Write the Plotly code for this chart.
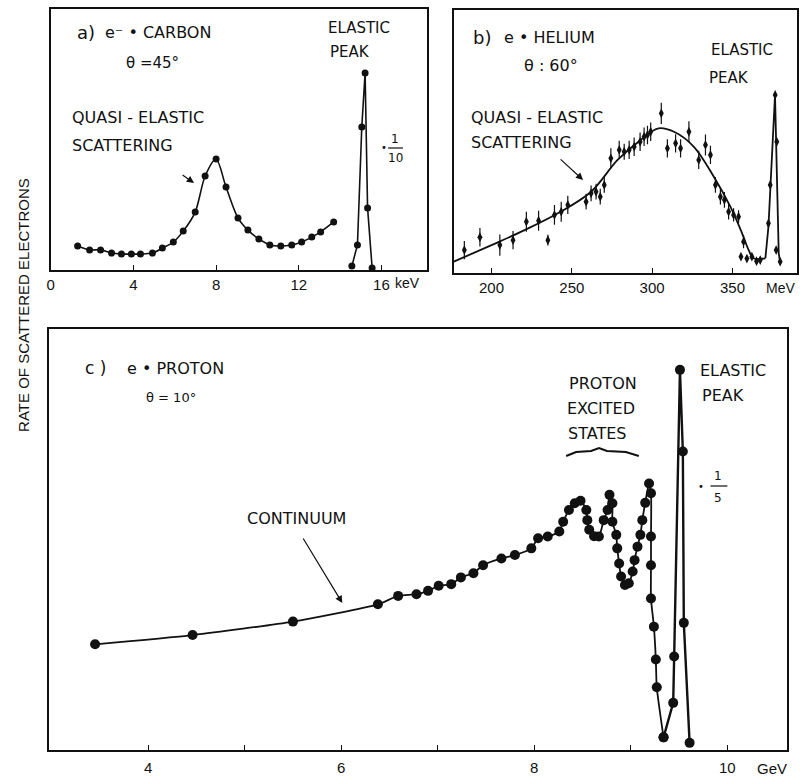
import plotly.graph_objects as go

W, H = 803, 780

# ---------------- data ----------------
# panel a: e + carbon (keV)
a_quasi_x = [1.30, 1.88, 2.41, 2.94, 3.42, 3.90, 4.34, 4.92, 5.40, 5.93, 6.41, 6.99, 7.47,
             8.00, 8.48, 9.06, 9.54, 10.07, 10.60, 11.13, 11.66, 12.14, 12.63, 13.06, 13.69]
a_quasi_y = [9.2, 7.7, 7.7, 6.5, 6.1, 6.1, 6.1, 6.5, 8.4, 10.7, 14.9, 22.2, 36.0,
             42.5, 31.8, 19.9, 15.3, 11.9, 9.6, 9.2, 9.6, 10.7, 12.6, 14.6, 18.4]
a_el_x = [14.57, 14.84, 15.05, 15.21, 15.33, 15.55]
a_el_y = [1.5, 9.6, 54.8, 75.5, 23.8, 0.8]
a_ticks = [0, 4, 8, 12, 16]
a_ticktext = ["0", "4", "8", "12", "16"]

# panel b: e + helium (MeV)
b_x = [183.1, 192.8, 205.2, 213.4, 221.7, 229.3, 235.1, 239.2, 243.4, 247.5, 258.9, 262.0,
       265.1, 267.7, 270.2, 274.3, 279.5, 282.6, 285.7, 288.8, 292.5, 295.0, 297.1, 299.1,
       305.7, 309.5, 314.6, 317.7, 322.9, 329.0, 333.2, 336.3, 339.4, 342.5, 345.0, 347.6,
       350.7, 353.8, 356.9, 355.3, 359.0, 362.1, 365.0, 367.3, 372.4, 373.5, 376.6, 377.6,
       377.2, 379.7]
b_y = [8.7, 13.6, 10.6, 12.5, 19.5, 19.9, 12.5, 22.1, 23.3, 25.9, 27.1, 30.3,
       30.9, 29.0, 33.5, 43.6, 46.8, 46.1, 46.8, 48.0, 49.9, 51.8, 52.5, 53.7,
       60.7, 47.4, 49.3, 47.4, 53.7, 43.0, 48.7, 44.9, 33.5, 29.0, 27.8, 23.3,
       22.1, 21.4, 11.9, 6.2, 5.5, 6.2, 4.5, 4.9, 18.9, 33.5, 67.7, 49.9,
       8.7, 4.3]
b_err = [3.5, 3.5, 4.0, 3.5, 3.8, 3.8, 2.0, 3.8, 3.8, 3.5, 3.0, 3.0,
         3.0, 3.0, 3.0, 3.8, 3.5, 3.0, 3.5, 3.5, 3.5, 3.5, 3.5, 3.5,
         4.0, 3.5, 3.5, 3.5, 4.0, 3.5, 4.0, 3.5, 3.0, 3.0, 3.0, 3.0,
         2.5, 2.5, 2.5, 1.0, 1.0, 1.0, 1.0, 1.0, 0, 0, 0, 0,
         0, 0]
b_fit_x = [176.5, 200, 220.6, 241.3, 262, 278.5, 292.9, 304, 313.6, 326, 338.4, 348.7,
           356, 360.1, 363.2, 370.5]
b_fit_y = [4.3, 10.6, 16.3, 22.7, 30.9, 43, 50.6, 55, 53.7, 48, 36.6, 25.2,
           15.1, 8.7, 5.6, 5.6]
b_el_x = [370.5, 372.4, 376.5, 378.8, 379.7]
b_el_y = [5.6, 17.6, 67.7, 7.5, 4.0]
b_ticks = [200, 250, 300, 350]

# panel c: e + proton (GeV)
c_x = [3.45, 4.46, 5.50, 6.38, 6.59, 6.78, 6.90, 7.01, 7.14, 7.24, 7.37, 7.47, 7.66,
       7.80, 7.97, 8.04, 8.14, 8.26, 8.30, 8.36, 8.42, 8.48, 8.54, 8.55, 8.57, 8.62,
       8.67, 8.72, 8.76, 8.78, 8.81, 8.81, 8.85, 8.86, 8.88, 8.90, 8.94, 8.98, 9.02,
       9.04, 9.07, 9.10, 9.12, 9.15, 9.19, 9.21, 9.21, 9.21, 9.21, 9.24, 9.26, 9.27,
       9.34]
c_y = [25.1, 27.3, 30.5, 34.6, 36.6, 37.0, 37.8, 39.0, 39.4, 41.0, 42.0, 43.9, 45.5,
       46.3, 47.9, 50.3, 50.7, 51.9, 54.2, 57.0, 58.6, 59.2, 57.0, 54.6, 52.3, 50.8,
       50.7, 54.6, 57.0, 60.6, 58.6, 54.2, 51.1, 47.9, 44.3, 41.2, 39.2, 39.6, 42.4,
       45.1, 48.3, 51.1, 54.6, 58.7, 63.3, 61.0, 50.7, 43.9, 36.0, 29.3, 21.5, 14.9,
       3.0]
c_el_x = [9.34, 9.44, 9.45, 9.51, 9.54, 9.55, 9.61]
c_el_y = [3.0, 11.2, 22.2, 90.3, 70.9, 30.2, 1.7]
c_ticks = [4, 5, 6, 7, 8, 9, 10]
c_ticktext = ["4", "", "6", "", "8", "", "10"]

# ---------------- figure ----------------
def px(x):
    return x / W

def py(y):
    return 1 - y / H

FONT = "Liberation Sans, Arial, sans-serif"
LFONT = "DejaVu Sans, Liberation Sans, sans-serif"
BLACK = "#111111"

fig = go.Figure()

# panel a
fig.add_trace(go.Scatter(x=a_quasi_x, y=a_quasi_y, mode="lines+markers",
                         line=dict(color=BLACK, width=1.6, shape="spline", smoothing=0.8),
                         marker=dict(color=BLACK, size=7), xaxis="x", yaxis="y"))
fig.add_trace(go.Scatter(x=a_el_x, y=a_el_y, mode="lines+markers",
                         line=dict(color=BLACK, width=1.6),
                         marker=dict(color=BLACK, size=7), xaxis="x", yaxis="y"))

# panel b
fig.add_trace(go.Scatter(x=b_fit_x, y=b_fit_y, mode="lines",
                         line=dict(color=BLACK, width=1.8, shape="spline", smoothing=1.0),
                         xaxis="x2", yaxis="y2"))
fig.add_trace(go.Scatter(x=b_el_x, y=b_el_y, mode="lines",
                         line=dict(color=BLACK, width=1.8),
                         xaxis="x2", yaxis="y2"))
fig.add_trace(go.Scatter(x=b_x, y=b_y, mode="markers",
                         marker=dict(color=BLACK, size=7, symbol="diamond-tall"),
                         error_y=dict(type="data", array=b_err, visible=True,
                                      color=BLACK, thickness=1.2, width=0),
                         xaxis="x2", yaxis="y2"))

# panel c
fig.add_trace(go.Scatter(x=c_x, y=c_y, mode="lines+markers",
                         line=dict(color=BLACK, width=1.8, shape="spline", smoothing=0.6),
                         marker=dict(color=BLACK, size=10), xaxis="x3", yaxis="y3"))
fig.add_trace(go.Scatter(x=c_el_x, y=c_el_y, mode="lines+markers",
                         line=dict(color=BLACK, width=2.4),
                         marker=dict(color=BLACK, size=10), xaxis="x3", yaxis="y3"))

frame = dict(showline=True, mirror=True, linecolor=BLACK, linewidth=1.6,
             showgrid=False, zeroline=False)
xtick = dict(ticks="inside", ticklen=5, tickwidth=1.2, tickcolor=BLACK,
             tickfont=dict(family=FONT, size=15, color=BLACK))
ynone = dict(showticklabels=False, ticks="", range=[0, 100])

fig.update_layout(
    width=W, height=H, showlegend=False,
    margin=dict(l=0, r=0, t=0, b=0),
    paper_bgcolor="white", plot_bgcolor="white",
    xaxis=dict(domain=[px(47), px(425)], range=[0, 18.2], anchor="y",
               tickvals=a_ticks, ticktext=a_ticktext, **frame, **xtick),
    yaxis=dict(domain=[py(270), py(9)], anchor="x", **frame, **ynone),
    xaxis2=dict(domain=[px(452), px(797)], range=[176.5, 390.2], anchor="y2",
                tickvals=b_ticks, **frame, **xtick),
    yaxis2=dict(domain=[py(273), py(10)], anchor="x2", **frame, **ynone),
    xaxis3=dict(domain=[px(45), px(787)], range=[2.97, 10.62], anchor="y3",
                tickvals=c_ticks, ticktext=c_ticktext, ticklabelstandoff=3,
                **frame, **xtick),
    yaxis3=dict(domain=[py(750), py(329)], anchor="x3", **frame, **ynone),
)

def text(x, y, s, size=14, anchor="left", angle=0, family=LFONT):
    fig.add_annotation(x=px(x), y=py(y), xref="paper", yref="paper", text=s,
                       showarrow=False, xanchor=anchor, yanchor="middle", textangle=angle,
                       font=dict(family=family, size=size, color=BLACK))

def arrow(x0, y0, x1, y1):
    fig.add_annotation(x=px(x1), y=py(y1), xref="paper", yref="paper", text="",
                       showarrow=True, ax=x0 - x1, ay=y0 - y1, arrowhead=2,
                       arrowsize=1.2, arrowwidth=1.2, arrowcolor=BLACK)

def seg(x0, y0, x1, y1, w=1.2):
    fig.add_shape(type="line", xref="paper", yref="paper",
                  x0=px(x0), y0=py(y0), x1=px(x1), y1=py(y1),
                  line=dict(color=BLACK, width=w))

# y-axis title
text(20, 305, "RATE OF SCATTERED ELECTRONS", size=15, anchor="center", angle=-90, family=FONT)

# panel a texts
text(71, 33, "a)", size=18)
text(99, 33, "e⁻ • CARBON", size=16)
text(121, 63, "θ =45°", size=15)
text(66, 117, "QUASI - ELASTIC", size=16)
text(66, 145, "SCATTERING", size=16)
text(324, 28, "ELASTIC", size=15)
text(326, 52, "PEAK", size=15)
text(377, 147, "•", size=10)
text(393, 139, "1", size=12, anchor="center")
seg(386, 148, 401, 148)
text(393, 158, "10", size=12, anchor="center")
text(391, 283, "keV", size=14, family=FONT)
arrow(178, 174, 191, 183)

# panel b texts
text(469, 37, "b)", size=18)
text(500, 37, "e • HELIUM", size=16)
text(521, 65, "θ : 60°", size=16)
text(709, 50, "ELASTIC", size=15)
text(707, 78, "PEAK", size=15)
text(467, 117, "QUASI - ELASTIC", size=16)
text(467, 142, "SCATTERING", size=16)
text(764, 288, "MeV", size=14, family=FONT)
arrow(558, 158, 582, 180)

# panel c texts
text(79, 368, "c )", size=17)
text(122, 368, "e • PROTON", size=16)
text(141, 397, "θ = 10°", size=13)
text(242, 518, "CONTINUUM", size=16)
text(566, 383, "PROTON", size=16)
text(564, 408, "EXCITED", size=16)
text(565, 433, "STATES", size=16)
text(697, 370, "ELASTIC", size=16)
text(699, 395, "PEAK", size=16)
text(695, 486, "•", size=10)
text(718, 476, "1", size=12, anchor="center")
seg(710, 486, 727, 486)
text(718, 498, "5", size=12, anchor="center")
text(755, 768, "GeV", size=15, family=FONT)
arrow(300, 537, 340, 603)

# brace under "STATES"
pts = [(565, 456), (575, 452), (590, 451), (598, 448), (606, 451), (625, 452), (638, 456)]
path = "M " + " L ".join(f"{px(a):.5f},{py(b):.5f}" for a, b in pts)
fig.add_shape(type="path", xref="paper", yref="paper", path=path,
              line=dict(color=BLACK, width=2))

fig.write_html("out.html", config={"displayModeBar": False},
               post_script="document.body.style.margin='0';document.body.style.overflow='hidden';")
